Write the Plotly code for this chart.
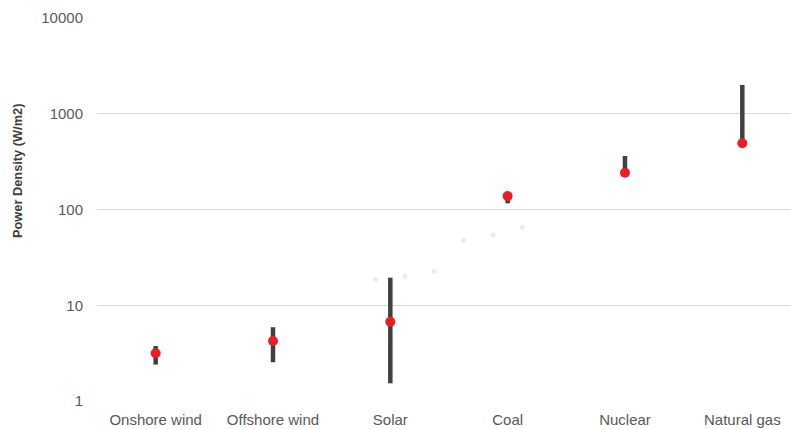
import plotly.graph_objects as go

# Power density by generation source (W/m2), log scale
categories = ["Onshore wind", "Offshore wind", "Solar", "Coal", "Nuclear", "Natural gas"]
range_low = [2.4, 2.54, 1.53, 116, 242, 491]
range_high = [3.75, 5.9, 19.4, 140, 362, 2000]
median = [3.15, 4.23, 6.73, 138, 242, 491]

# faint background points
faint_x = [1.875, 2.125, 2.375, 2.625, 2.875, 3.125]
faint_y = [18.7, 20.1, 22.6, 47.7, 54.6, 65.2]

x_pos = list(range(len(categories)))

seg_x, seg_y = [], []
for i, lo, hi in zip(x_pos, range_low, range_high):
    seg_x += [i, i, None]
    seg_y += [lo, hi, None]

fig = go.Figure()
fig.add_trace(go.Scatter(
    x=faint_x, y=faint_y, mode="markers",
    marker=dict(color="#ececec", size=5),
    hoverinfo="skip", showlegend=False,
))
fig.add_trace(go.Scatter(
    x=seg_x, y=seg_y, mode="lines",
    line=dict(color="#404040", width=4.5),
    showlegend=False,
))
fig.add_trace(go.Scatter(
    x=x_pos, y=median, mode="markers",
    marker=dict(color="#ec1c24", size=10),
    showlegend=False,
))

tick_font = dict(family="Liberation Sans, Arial, sans-serif", size=15, color="#595959")

plot_w = 791 - 97
plot_h = 429 - 18 - 28

fig.update_layout(
    width=791, height=429,
    margin=dict(l=97, r=0, t=18, b=28),
    paper_bgcolor="white", plot_bgcolor="white",
    xaxis=dict(
        range=[-0.5, 5.415],
        tickvals=x_pos, ticktext=categories,
        showgrid=False, zeroline=False, showline=False,
        tickfont=tick_font, ticks="outside", ticklen=5, tickcolor="rgba(0,0,0,0)",
    ),
    yaxis=dict(
        type="log", range=[0, 4],
        tickvals=[1, 10, 100, 1000, 10000],
        ticktext=["1", "10", "100", "1000", "10000"],
        showgrid=True, gridcolor="#d9d9d9", gridwidth=1,
        zeroline=False, showline=False,
        tickfont=tick_font, ticks="outside", ticklen=10, tickcolor="rgba(0,0,0,0)",
    ),
    annotations=[dict(
        text="<b>Power Density (W/m2)</b>",
        xref="paper", yref="paper",
        x=(17 - 97) / plot_w, y=(401 - 171) / plot_h,
        xanchor="center", yanchor="middle",
        showarrow=False, textangle=-90,
        font=dict(family="Liberation Sans, Arial, sans-serif", size=12.8, color="#404040"),
    )],
)

fig.write_html("out.html")
